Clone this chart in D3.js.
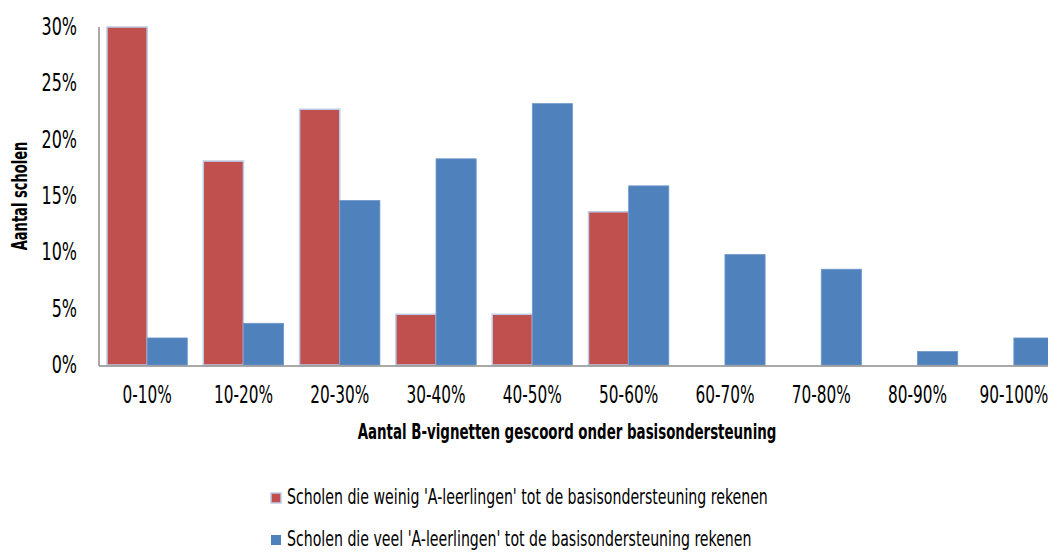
<!DOCTYPE html>
<meta charset="utf-8">
<style>
body { margin: 0; background: #fff; }
text {
  font-family: "DejaVu Sans Condensed", "DejaVu Sans", sans-serif;
  fill: #000;
}
.tick-label { font-size: 24px; }
.title { font-size: 22px; font-weight: bold; }
.legend-label { font-size: 22px; }
</style>
<svg width="1048" height="552"></svg>
<script src="https://cdn.jsdelivr.net/npm/d3@7"></script>
<script>

// categories on the x axis
var categories = ["0-10%", "10-20%", "20-30%", "30-40%", "40-50%",
                  "50-60%", "60-70%", "70-80%", "80-90%", "90-100%"];

// percentage of schools per category
var weinigA = [30, 18.1, 22.7, 4.5, 4.5, 13.6, 0, 0, 0, 0];
var veelA   = [2.4, 3.7, 14.6, 18.3, 23.2, 15.9, 9.8, 8.5, 1.2, 2.4];

var seriesNames = [
  "Scholen die weinig 'A-leerlingen' tot de basisondersteuning rekenen",
  "Scholen die veel 'A-leerlingen' tot de basisondersteuning rekenen"
];
var seriesColors = ["#C0504D", "#4F81BD"];

var yTicks = [0, 5, 10, 15, 20, 25, 30];

var svg = d3.select("svg");

var x = d3.scaleBand()
    .domain(categories)
    .range([99, 99 + 96.3 * categories.length])
    .padding(0);

var xs = d3.scaleBand()
    .domain([0, 1])
    .range([8, x.bandwidth() - 8]);

var y = d3.scaleLinear()
    .domain([0, 30])
    .range([365, 27])
    .clamp(true);

// squeeze text horizontally to mimic the condensed font of the original
function squeeze(sel, sx) {
  sel.each(function() {
    var t = d3.select(this);
    var px = +t.attr("data-x"), py = +t.attr("data-y");
    t.attr("transform", "translate(" + px + "," + py + ") scale(" + sx + ",1)");
  });
}

// bars
var rows = categories.map(function(c, i) {
  return { cat: c, values: [weinigA[i], veelA[i]] };
});

var groups = svg.append("g")
  .selectAll("g")
  .data(rows)
  .enter().append("g")
    .attr("transform", function(d) { return "translate(" + x(d.cat) + ",0)"; });

groups.selectAll("rect")
  .data(function(d) { return d.values.map(function(v, s) { return { s: s, v: v }; }); })
  .enter().filter(function(d) { return d.v > 0; }).append("rect")
    .attr("x", function(d) { return xs(d.s); })
    .attr("width", xs.bandwidth())
    .attr("y", function(d) { return y(d.v); })
    .attr("height", function(d) { return y(0) - y(d.v); })
    .style("fill", function(d) { return seriesColors[d.s]; })
    .style("stroke", function(d) { return d.s === 0 ? "#bccbe9" : "#6f97c9"; })
    .style("stroke-width", function(d) { return d.s === 0 ? 1.5 : 0.8; });

// axis lines
svg.append("line")
    .attr("x1", 99).attr("x2", 99)
    .attr("y1", y(30)).attr("y2", y(0) + 1)
    .style("stroke", "#8c8c8c").style("stroke-width", 1.5);
svg.append("line")
    .attr("x1", 99).attr("x2", 1048)
    .attr("y1", y(0) + 1).attr("y2", y(0) + 1)
    .style("stroke", "#8c8c8c").style("stroke-width", 1.5);

// y tick labels
svg.append("g").selectAll("text")
  .data(yTicks)
  .enter().append("text")
    .attr("class", "tick-label")
    .attr("data-x", 77)
    .attr("data-y", function(d) { return y(d) + 8; })
    .attr("text-anchor", "end")
    .text(function(d) { return d + "%"; })
    .call(squeeze, 0.74);

// x tick labels
svg.append("g").selectAll("text")
  .data(categories)
  .enter().append("text")
    .attr("class", "tick-label")
    .attr("data-x", function(d) { return x(d) + x.bandwidth() / 2; })
    .attr("data-y", 403)
    .attr("text-anchor", "middle")
    .text(function(d) { return d; })
    .call(squeeze, 0.71);

// axis titles
svg.append("text")
    .attr("class", "title")
    .attr("data-x", 567)
    .attr("data-y", 439)
    .attr("text-anchor", "middle")
    .text("Aantal B-vignetten gescoord onder basisondersteuning")
    .call(squeeze, 0.677);

svg.append("text")
    .attr("class", "title")
    .attr("text-anchor", "middle")
    .attr("transform", "translate(27,196) rotate(-90) scale(0.66,1)")
    .text("Aantal scholen");

// legend
var legend = svg.append("g").selectAll("g")
  .data(seriesNames)
  .enter().append("g")
    .attr("transform", function(d, i) { return "translate(271," + (493 + i * 42) + ")"; });

legend.append("rect")
    .attr("width", 10).attr("height", 10)
    .style("fill", function(d, i) { return seriesColors[i]; })
    .style("stroke", function(d, i) { return i === 0 ? "#bccbe9" : "none"; })
    .style("stroke-width", 1.5);

legend.append("text")
    .attr("class", "legend-label")
    .attr("data-x", 16)
    .attr("data-y", 11)
    .text(function(d) { return d; })
    .call(squeeze, 0.714);

</script>
